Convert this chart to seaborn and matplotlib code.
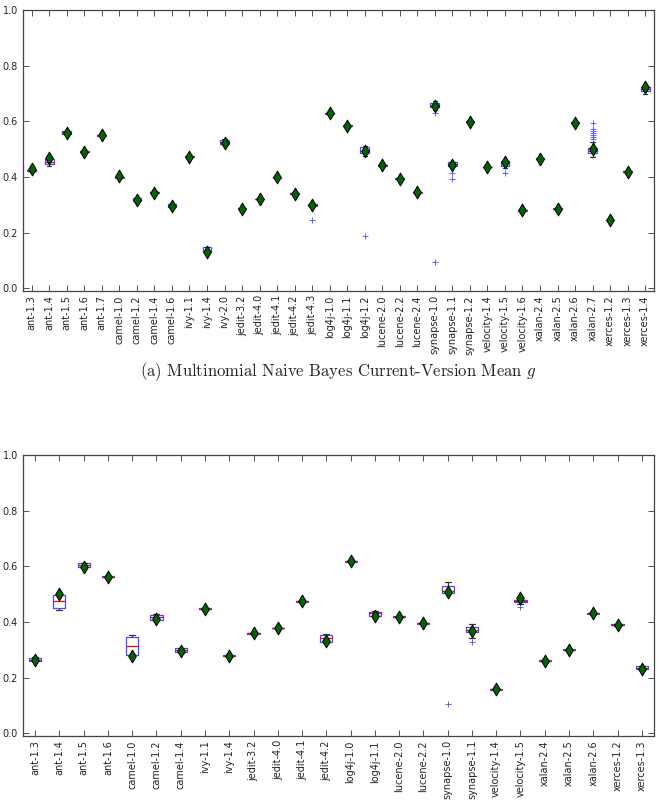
import numpy as np
import pandas as pd
import matplotlib
matplotlib.use("Agg")
import matplotlib.pyplot as plt
import seaborn as sns

# ---------------- data: panel (a) ----------------
top_projects = ["ant-1.3", "ant-1.4", "ant-1.5", "ant-1.6", "ant-1.7",
                "camel-1.0", "camel-1.2", "camel-1.4", "camel-1.6",
                "ivy-1.1", "ivy-1.4", "ivy-2.0",
                "jedit-3.2", "jedit-4.0", "jedit-4.1", "jedit-4.2", "jedit-4.3",
                "log4j-1.0", "log4j-1.1", "log4j-1.2",
                "lucene-2.0", "lucene-2.2", "lucene-2.4",
                "synapse-1.0", "synapse-1.1", "synapse-1.2",
                "velocity-1.4", "velocity-1.5", "velocity-1.6",
                "xalan-2.4", "xalan-2.5", "xalan-2.6", "xalan-2.7",
                "xerces-1.2", "xerces-1.3", "xerces-1.4"]

top_samples = [
    [0.418, 0.420, 0.422, 0.425, 0.428],
    [0.440, 0.445, 0.455, 0.463, 0.466],
    [0.553, 0.555, 0.560, 0.565, 0.567],
    [0.488, 0.489, 0.491, 0.492, 0.494],
    [0.546, 0.548, 0.550, 0.551, 0.553],
    [0.395, 0.396, 0.398, 0.399, 0.401],
    [0.313, 0.315, 0.318, 0.326, 0.328],
    [0.341, 0.343, 0.345, 0.347, 0.348],
    [0.291, 0.293, 0.297, 0.302, 0.303],
    [0.470, 0.471, 0.473, 0.474, 0.476],
    [0.127, 0.129, 0.133, 0.147, 0.149],
    [0.517, 0.519, 0.527, 0.533, 0.535],
    [0.282, 0.284, 0.285, 0.287, 0.288],
    [0.318, 0.320, 0.321, 0.322, 0.324],
    [0.394, 0.396, 0.398, 0.399, 0.401],
    [0.337, 0.339, 0.341, 0.343, 0.344],
    [0.245, 0.296, 0.297, 0.298, 0.299, 0.300, 0.301, 0.302, 0.303],
    [0.626, 0.628, 0.629, 0.631, 0.632],
    [0.580, 0.582, 0.583, 0.585, 0.586],
    [0.188, 0.475, 0.487, 0.490, 0.495, 0.500, 0.507, 0.510, 0.513],
    [0.440, 0.441, 0.443, 0.444, 0.446],
    [0.390, 0.392, 0.393, 0.395, 0.396],
    [0.342, 0.344, 0.345, 0.347, 0.348],
    [0.095, 0.631, 0.641, 0.652, 0.655, 0.657, 0.659, 0.661, 0.663, 0.665,
     0.668, 0.670, 0.673],
    [0.392, 0.413, 0.440, 0.442, 0.445, 0.448, 0.452, 0.453, 0.455],
    [0.595, 0.597, 0.598, 0.600, 0.601],
    [0.432, 0.434, 0.435, 0.437, 0.438],
    [0.414, 0.431, 0.441, 0.445, 0.449, 0.452, 0.457, 0.458, 0.459],
    [0.277, 0.279, 0.280, 0.282, 0.283],
    [0.462, 0.464, 0.465, 0.467, 0.468],
    [0.282, 0.284, 0.285, 0.287, 0.288],
    [0.592, 0.594, 0.595, 0.597, 0.598],
    [0.473, 0.475, 0.477, 0.479, 0.480, 0.482, 0.483, 0.484, 0.485,
     0.487, 0.488, 0.490, 0.491, 0.492, 0.493, 0.494, 0.495,
     0.496, 0.497, 0.499, 0.500, 0.501, 0.503, 0.504, 0.505,
     0.527, 0.537, 0.543, 0.549, 0.557, 0.565, 0.571, 0.595],
    [0.242, 0.244, 0.245, 0.247, 0.248],
    [0.415, 0.417, 0.419, 0.421, 0.422],
    [0.698, 0.710, 0.715, 0.722, 0.731],
]

top_means = [0.427, 0.467, 0.559, 0.491, 0.550, 0.403, 0.317, 0.344, 0.296,
             0.473, 0.130, 0.522, 0.285, 0.321, 0.400, 0.339, 0.300, 0.629,
             0.582, 0.495, 0.443, 0.393, 0.345, 0.655, 0.443, 0.598, 0.435,
             0.455, 0.280, 0.465, 0.285, 0.595, 0.500, 0.245, 0.417, 0.725]

# ---------------- data: panel (b) ----------------
bot_projects = ["ant-1.3", "ant-1.4", "ant-1.5", "ant-1.6",
                "camel-1.0", "camel-1.2", "camel-1.4",
                "ivy-1.1", "ivy-1.4",
                "jedit-3.2", "jedit-4.0", "jedit-4.1", "jedit-4.2",
                "log4j-1.0", "log4j-1.1",
                "lucene-2.0", "lucene-2.2",
                "synapse-1.0", "synapse-1.1",
                "velocity-1.4", "velocity-1.5",
                "xalan-2.4", "xalan-2.5", "xalan-2.6",
                "xerces-1.2", "xerces-1.3"]

bot_samples = [
    [0.258, 0.260, 0.265, 0.269, 0.275],
    [0.443, 0.449, 0.475, 0.496, 0.498],
    [0.594, 0.596, 0.605, 0.611, 0.612],
    [0.559, 0.561, 0.562, 0.564, 0.565],
    [0.279, 0.281, 0.314, 0.345, 0.353],
    [0.405, 0.407, 0.418, 0.425, 0.427],
    [0.290, 0.292, 0.298, 0.305, 0.306],
    [0.445, 0.447, 0.448, 0.450, 0.451],
    [0.275, 0.277, 0.278, 0.280, 0.281],
    [0.356, 0.358, 0.359, 0.361, 0.362],
    [0.375, 0.377, 0.378, 0.380, 0.381],
    [0.471, 0.473, 0.474, 0.476, 0.477],
    [0.326, 0.328, 0.343, 0.353, 0.355],
    [0.615, 0.617, 0.618, 0.620, 0.621],
    [0.421, 0.423, 0.431, 0.437, 0.439],
    [0.416, 0.418, 0.419, 0.421, 0.422],
    [0.392, 0.394, 0.395, 0.397, 0.398],
    [0.104, 0.503, 0.505, 0.507, 0.510, 0.520, 0.531, 0.537, 0.543],
    [0.328, 0.341, 0.363, 0.368, 0.372, 0.378, 0.383, 0.388, 0.392],
    [0.155, 0.157, 0.158, 0.160, 0.161],
    [0.455, 0.463, 0.470, 0.472, 0.474, 0.476, 0.478, 0.479, 0.480],
    [0.258, 0.260, 0.261, 0.263, 0.264],
    [0.298, 0.300, 0.301, 0.303, 0.304],
    [0.428, 0.430, 0.431, 0.433, 0.434],
    [0.386, 0.388, 0.389, 0.391, 0.392],
    [0.228, 0.230, 0.236, 0.242, 0.243],
]

bot_means = [0.263, 0.499, 0.596, 0.562, 0.279, 0.411, 0.296, 0.448, 0.278,
             0.359, 0.378, 0.475, 0.330, 0.618, 0.423, 0.419, 0.395, 0.509,
             0.368, 0.158, 0.486, 0.261, 0.301, 0.431, 0.389, 0.230]

y_ticks = [0.0, 0.2, 0.4, 0.6, 0.8, 1.0]
caption_a = r"(a) Multinomial Naive Bayes Current-Version Mean $g$"

# ---------------- style ----------------
sns.set_style("ticks")
plt.rcParams["font.family"] = ["DejaVu Sans"]
plt.rcParams["mathtext.fontset"] = "cm"

BLUE = "#4a4aff"


def long_form(projects, samples):
    rows = []
    for p, vals in zip(projects, samples):
        for v in vals:
            rows.append((p, v))
    return pd.DataFrame(rows, columns=["project", "value"])


def draw_panel(ax, projects, samples, means):
    df = long_form(projects, samples)
    sns.boxplot(data=df, x="project", y="value", order=projects, ax=ax,
                width=0.5, fill=False, color=BLUE, linewidth=0.9,
                whis=1.5,
                boxprops=dict(color=BLUE, linewidth=0.9),
                medianprops=dict(color="red", linewidth=0.9),
                whiskerprops=dict(color="#333333", linewidth=0.9),
                capprops=dict(color="#333333", linewidth=0.9),
                flierprops=dict(marker="+", markersize=5,
                                markeredgewidth=0.6, linestyle="none"))
    for ln in ax.lines:
        if ln.get_marker() == "+":
            ln.set_markeredgecolor(BLUE)
            ln.set_markerfacecolor(BLUE)
            ln.set_color(BLUE)
    mdf = pd.DataFrame({"project": projects, "mean": means})
    sns.stripplot(data=mdf, x="project", y="mean", order=projects, ax=ax,
                  jitter=False, marker="d", size=6.5, color="#006400",
                  edgecolor="black", linewidth=0.7, zorder=5)
    ax.set_xlim(-0.5, len(projects) - 0.5)
    ax.set_ylim(-0.01, 1.0)
    ax.set_yticks(y_ticks)
    ax.set_yticklabels([f"{t:.1f}" for t in y_ticks])
    ax.set_xlabel("")
    ax.set_ylabel("")
    ax.tick_params(axis="both", direction="in", top=True, right=True,
                   length=4, width=0.6, color="#333333", labelsize=7,
                   labelcolor="#222222")
    ax.tick_params(axis="x", rotation=90, pad=3)
    for s in ax.spines.values():
        s.set_color("#444444")
        s.set_linewidth(0.9)
        s.set_visible(True)


fig = plt.figure(figsize=(6.6, 8.01), dpi=100)
ax1 = fig.add_axes([0.0348, 0.6367, 0.956, 0.3508])
ax2 = fig.add_axes([0.0348, 0.0811, 0.956, 0.3508])

draw_panel(ax1, top_projects, top_samples, top_means)
draw_panel(ax2, bot_projects, bot_samples, bot_means)

fig.text(338 / 660, 1 - 372 / 801, caption_a, ha="center", va="center",
         fontsize=12, family="cmr10", color="#222222")

fig.savefig("out.png", dpi=100)
